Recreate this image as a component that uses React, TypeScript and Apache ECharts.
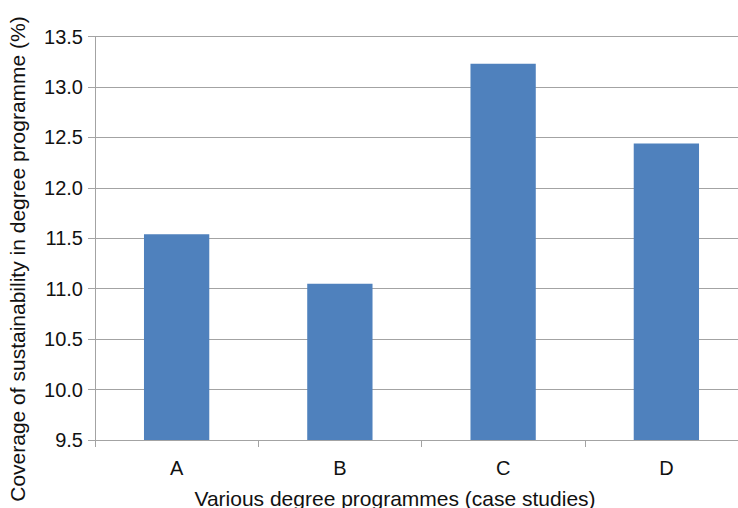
import React, { useEffect, useRef } from "react";
import * as echarts from "echarts";

const categories = ["A", "B", "C", "D"];
const coverage = [11.54, 11.05, 13.23, 12.44];
const yMin = 9.5;
const yMax = 13.5;
const yStep = 0.5;

const xTitle = "Various degree programmes (case studies)";
const yTitle = "Coverage of sustainability in degree programme (%)";

const FONT = "'Liberation Sans', Arial, Helvetica, sans-serif";
const GRID_GRAY = "#a3a3a3";
const TEXT = "#111";

export default function App() {
  const ref = useRef<HTMLDivElement>(null);

  useEffect(() => {
    if (!ref.current) return;
    const chart = echarts.init(ref.current, undefined, { renderer: "svg" });
    chart.setOption({
      animation: false,
      backgroundColor: "#ffffff",
      // plot area runs a little past the right edge of the visible page
      grid: { left: 95, right: 0, top: 36.5, bottom: 68, containLabel: false },
      xAxis: {
        type: "category",
        data: categories,
        boundaryGap: true,
        axisLine: { show: true, lineStyle: { color: GRID_GRAY, width: 1 } },
        axisTick: { show: true, length: 7, lineStyle: { color: GRID_GRAY } },
        axisLabel: { margin: 18, color: TEXT, fontSize: 20, fontFamily: FONT },
        splitLine: { show: false },
      },
      yAxis: {
        type: "value",
        min: yMin,
        max: yMax,
        interval: yStep,
        axisLine: { show: true, lineStyle: { color: GRID_GRAY, width: 1 } },
        axisTick: { show: true, length: 7, lineStyle: { color: GRID_GRAY } },
        axisLabel: {
          margin: 12,
          color: TEXT,
          fontSize: 20,
          fontFamily: FONT,
          formatter: (v: number) => v.toFixed(1),
        },
        splitLine: { show: true, lineStyle: { color: GRID_GRAY, width: 1 } },
      },
      series: [
        {
          type: "bar",
          data: coverage,
          barWidth: "40%",
          itemStyle: { color: "#4f81bd" },
        },
      ],
      graphic: [
        {
          type: "text",
          x: 395,
          y: 498,
          style: {
            text: xTitle,
            fontSize: 21,
            fontFamily: FONT,
            fill: TEXT,
            align: "center",
            verticalAlign: "middle",
          },
        },
        {
          type: "text",
          x: 17,
          y: 259,
          rotation: Math.PI / 2,
          style: {
            text: yTitle,
            fontSize: 21,
            fontFamily: FONT,
            fill: TEXT,
            align: "center",
            verticalAlign: "middle",
          },
        },
      ],
    });
    return () => chart.dispose();
  }, []);

  return (
    <div
      ref={ref}
      style={{ position: "fixed", left: 0, top: 0, width: 748, height: 508 }}
    />
  );
}
